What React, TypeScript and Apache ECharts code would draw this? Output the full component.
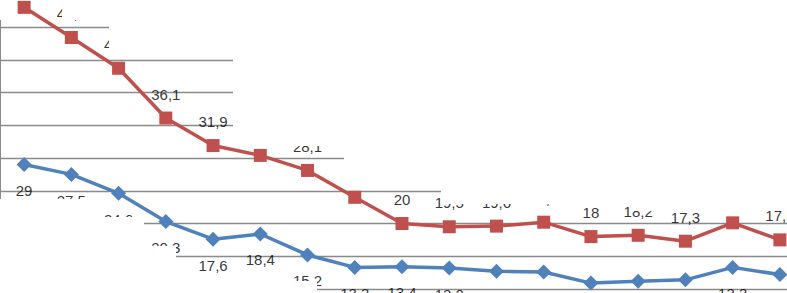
import React, { useEffect, useRef } from "react";
import * as echarts from "echarts";

const categories = ["1", "2", "3", "4", "5", "6", "7", "8", "9", "10", "11", "12", "13", "14", "15", "16", "17"];
const redValues = [53.0, 48.4, 43.7, 36.1, 31.9, 30.4, 28.1, 24.0, 20, 19.5, 19.6, 20.2, 18, 18.2, 17.3, 20.1, 17.5];
const blueValues = [29, 27.5, 24.6, 20.3, 17.6, 18.4, 15.2, 13.3, 13.4, 13.2, 12.7, 12.6, 10.9, 11.2, 11.4, 13.3, 12.2];

// white masks reproducing the reference's hidden areas: [x, y, w, h]
const masks: number[][] = [
  [0, 0, 12, 20],
  [62, 0, 725, 20],
  [109, 20, 678, 35],
  [233, 55, 554, 91],
  [344, 146, 443, 40],
  [441, 186, 346, 18],
  [631, 204, 156, 7],
  [0, 199, 100, 94],
  [100, 217, 44, 76],
  [144, 246, 32, 47],
  [176, 281, 141, 12],
];

const RED = "#C0504D";
const BLUE = "#4F81BD";
const fmt = (p: any) => String(p.value).replace(".", ",");

export default function App() {
  const ref = useRef<HTMLDivElement>(null);
  useEffect(() => {
    document.body.style.margin = "0";
    const chart = echarts.init(ref.current!, undefined, { renderer: "svg" });
    const redLabelData = redValues.map((v, i) =>
      i === 0 ? { value: v, label: { show: false } } : v
    );
    chart.setOption({
      animation: false,
      backgroundColor: "#ffffff",
      grid: {
        left: 0.5,
        top: -5.75,
        width: 803,
        height: 327.5,
        outerBoundsMode: "none",
        containLabel: false,
      },
      xAxis: {
        type: "category",
        data: categories,
        boundaryGap: true,
        axisLine: { show: false },
        axisTick: { show: false },
        axisLabel: { show: false },
      },
      yAxis: {
        type: "value",
        min: 5,
        max: 55,
        interval: 5,
        axisLine: { show: true, lineStyle: { color: "#8a8a8a", width: 1 } },
        axisTick: { show: false },
        axisLabel: { show: false },
        splitLine: { show: true, lineStyle: { color: "#8a8a8a", width: 1.3 } },
      },
      graphic: masks.map((m) => ({
        type: "rect",
        z: 3,
        silent: true,
        shape: { x: m[0], y: m[1], width: m[2], height: m[3] },
        style: { fill: "#ffffff" },
      })),
      series: [
        {
          type: "scatter",
          z: 1,
          clip: false,
          data: redLabelData,
          symbolSize: 1,
          itemStyle: { color: "rgba(0,0,0,0)" },
          label: {
            show: true,
            position: "top",
            distance: 16,
            formatter: fmt,
            color: "#000",
            fontFamily: "Liberation Sans",
            fontSize: 15,
          },
        },
        {
          type: "scatter",
          z: 1,
          clip: false,
          data: blueValues,
          symbolSize: 1,
          itemStyle: { color: "rgba(0,0,0,0)" },
          label: {
            show: true,
            position: "bottom",
            distance: 18,
            formatter: fmt,
            color: "#000",
            fontFamily: "Liberation Sans",
            fontSize: 15,
          },
        },
        {
          type: "line",
          z: 5,
          data: redValues,
          clip: false,
          symbol: "rect",
          symbolSize: 13,
          lineStyle: { color: RED, width: 3.5 },
          itemStyle: { color: RED },
        },
        {
          type: "line",
          z: 5,
          data: blueValues,
          clip: false,
          symbol: "diamond",
          symbolSize: 15,
          lineStyle: { color: BLUE, width: 3.5 },
          itemStyle: { color: BLUE },
        },
      ],
    });
    return () => chart.dispose();
  }, []);
  return <div ref={ref} style={{ width: 787, height: 293 }} />;
}
